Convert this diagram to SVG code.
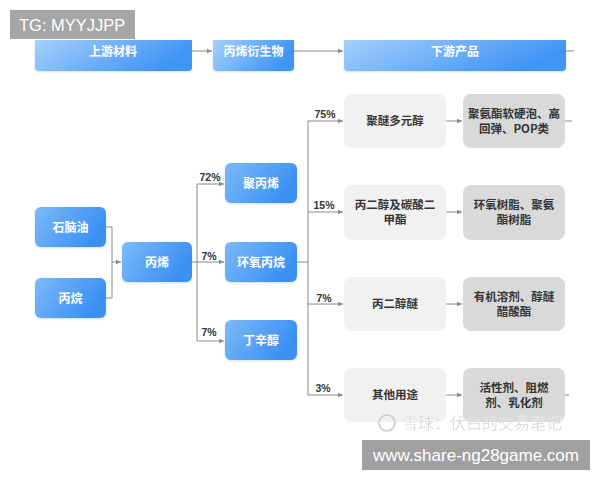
<svg xmlns="http://www.w3.org/2000/svg" width="600" height="480" viewBox="0 0 600 480">
<defs>
<linearGradient id="blue" x1="0" y1="0" x2="1" y2="0.3">
<stop offset="0" stop-color="#a6d0fb"/>
<stop offset="1" stop-color="#3f94f5"/>
</linearGradient>
<linearGradient id="blue2" x1="0" y1="0" x2="1" y2="0.4">
<stop offset="0" stop-color="#7db9f8"/>
<stop offset="1" stop-color="#3a90f4"/>
</linearGradient>
<marker id="ah" markerWidth="6" markerHeight="6" refX="5" refY="3" orient="auto" markerUnits="userSpaceOnUse">
<path d="M0,0.8 L5,3 L0,5.2 Z" fill="#8a8a8a"/>
</marker>
<filter id="sh" x="-10%" y="-10%" width="120%" height="130%">
<feDropShadow dx="0" dy="1" stdDeviation="1" flood-color="#3a7fd0" flood-opacity="0.25"/>
</filter>
</defs>
<style>
.hb{fill:url(#blue);filter:url(#sh)}
.nb{fill:url(#blue2);filter:url(#sh)}
.g1{fill:#f1f1f1}
.g2{fill:#d9d9d9}
.wt{font-family:"Noto Sans CJK SC","Noto Sans",sans-serif;font-size:12px;font-weight:bold;fill:#ffffff;text-anchor:middle}
.dt{font-family:"Noto Sans CJK SC","Noto Sans",sans-serif;font-size:11.5px;font-weight:bold;fill:#333333;text-anchor:middle}
.pc{font-family:"Liberation Sans",Arial,sans-serif;font-size:10.5px;font-weight:bold;fill:#333333;text-anchor:middle}
.ln{fill:none;stroke:#8a8a8a;stroke-width:1}
.ar{fill:none;stroke:#8a8a8a;stroke-width:1;marker-end:url(#ah)}
</style>
<rect width="600" height="480" fill="#ffffff"/>

<g id="header-upstream"><path class="hb" d="M35,40 H192 V67 Q192,71 188,71 H39 Q35,71 35,67 Z"/><text class="wt" x="113" y="55.5">上游材料</text></g>
<g id="header-derivative"><path class="hb" d="M213,40 H294 V67 Q294,71 290,71 H217 Q213,71 213,67 Z"/><text class="wt" x="253.5" y="55.5">丙烯衍生物</text></g>
<g id="header-downstream"><path class="hb" d="M344,40 H566 V67 Q566,71 562,71 H348 Q344,71 344,67 Z"/><text class="wt" x="455" y="55.5">下游产品</text></g>

<g id="connectors">
<path class="ar" d="M192,51 H212"/>
<path class="ar" d="M294,51 H343"/>
<path class="ln" d="M566,51 H574"/>
<path class="ln" d="M106,227 H112 V298 H106"/>
<path class="ar" d="M112,262 H121"/>
<path class="ln" d="M192,262 H197"/>
<path class="ar" d="M197,184 H224"/>
<path class="ln" d="M197,184 V341"/>
<path class="ar" d="M197,262 H224"/>
<path class="ar" d="M197,341 H224"/>
<path class="ln" d="M297,262 H308"/>
<path class="ln" d="M308,121 V395"/>
<path class="ar" d="M308,121 H343"/>
<path class="ar" d="M308,212 H343"/>
<path class="ar" d="M308,304 H343"/>
<path class="ar" d="M308,395 H343"/>
<path class="ar" d="M446,121 H462"/>
<path class="ar" d="M446,212 H462"/>
<path class="ar" d="M446,304 H462"/>
<path class="ar" d="M446,395 H462"/>
<path class="ln" d="M565,121 H572"/>
<path class="ln" d="M565,395 H569"/>
<text class="pc" x="210" y="181">72%</text>
<text class="pc" x="209" y="260">7%</text>
<text class="pc" x="209" y="336">7%</text>
<text class="pc" x="325" y="118">75%</text>
<text class="pc" x="324" y="209">15%</text>
<text class="pc" x="324" y="302">7%</text>
<text class="pc" x="323" y="392">3%</text>
</g>

<g id="naphtha"><rect class="nb" x="35" y="207" width="71" height="40" rx="6"/><text class="wt" x="70.5" y="231.5">石脑油</text></g>
<g id="propane"><rect class="nb" x="35" y="278" width="71" height="40" rx="6"/><text class="wt" x="70.5" y="302.5">丙烷</text></g>
<g id="propylene"><rect class="nb" x="122" y="242" width="70" height="40" rx="6"/><text class="wt" x="157" y="266.5">丙烯</text></g>
<g id="polypropylene"><rect class="nb" x="225" y="163" width="72" height="40" rx="6"/><text class="wt" x="261" y="187.5">聚丙烯</text></g>
<g id="propylene-oxide"><rect class="nb" x="225" y="242" width="72" height="40" rx="6"/><text class="wt" x="261" y="266.5">环氧丙烷</text></g>
<g id="octanol"><rect class="nb" x="225" y="320" width="72" height="40" rx="6"/><text class="wt" x="261" y="344.5">丁辛醇</text></g>

<g id="polyether"><rect class="g1" x="344" y="94" width="102" height="54" rx="8"/><text class="dt" x="395" y="125">聚醚多元醇</text></g>
<g id="pg-dmc"><rect class="g1" x="344" y="185" width="102" height="55" rx="8"/><text class="dt" x="395" y="209">丙二醇及碳酸二</text><text class="dt" x="395" y="224">甲酯</text></g>
<g id="pg-ether"><rect class="g1" x="344" y="277" width="102" height="54" rx="8"/><text class="dt" x="395" y="308">丙二醇醚</text></g>
<g id="other"><rect class="g1" x="344" y="368" width="102" height="54" rx="8"/><text class="dt" x="395" y="399">其他用途</text></g>

<g id="pu-foam"><rect class="g2" x="463" y="94" width="102" height="54" rx="8"/><text class="dt" x="514" y="118">聚氨酯软硬泡、高</text><text class="dt" x="514" y="133">回弹、POP类</text></g>
<g id="epoxy"><rect class="g2" x="463" y="185" width="102" height="55" rx="8"/><text class="dt" x="514" y="209">环氧树脂、聚氨</text><text class="dt" x="514" y="224">酯树脂</text></g>
<g id="solvent"><rect class="g2" x="463" y="277" width="102" height="54" rx="8"/><text class="dt" x="514" y="301">有机溶剂、醇醚</text><text class="dt" x="514" y="316">醋酸酯</text></g>
<g id="surfactant"><rect class="g2" x="463" y="368" width="102" height="54" rx="8"/><text class="dt" x="514" y="392">活性剂、阻燃</text><text class="dt" x="514" y="407">剂、乳化剂</text></g>

<g id="watermark" opacity="0.85">
<circle cx="387" cy="423" r="8" fill="none" stroke="#c4c4c4" stroke-width="1.6"/>
<text x="402" y="429" font-family="'Noto Sans CJK SC',sans-serif" font-size="16" fill="#c8c8c8" stroke="#ffffff" stroke-width="0.3">雪球：伏白的交易笔记</text>
</g>

<g id="tg-label"><rect x="10" y="10" width="125" height="29" fill="#a6a6a6"/><text x="19" y="31" font-family="'Liberation Sans',Arial,sans-serif" font-size="16.5" fill="#ffffff">TG: MYYJJPP</text></g>
<g id="site-label"><rect x="362" y="440" width="228" height="30" fill="#a0a0a0"/><text x="476" y="461" text-anchor="middle" font-family="'Liberation Sans',Arial,sans-serif" font-size="17" fill="#ffffff">www.share-ng28game.com</text></g>
</svg>
